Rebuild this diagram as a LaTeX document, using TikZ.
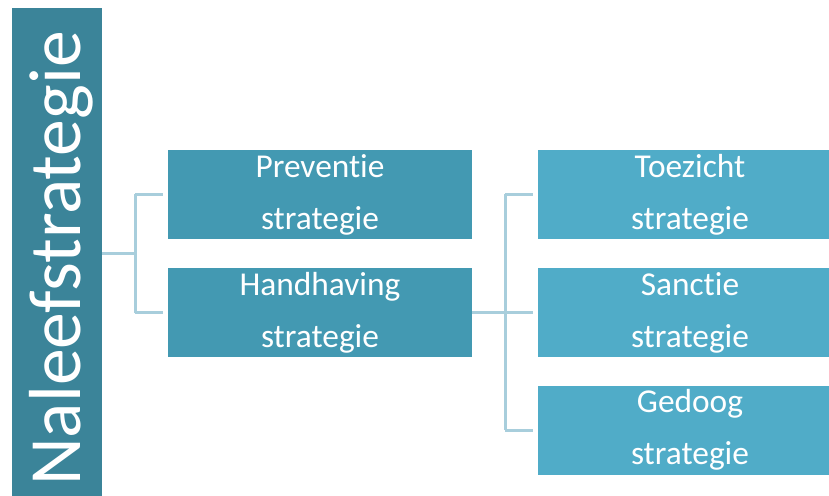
\documentclass[tikz,border=0pt]{standalone}
\usepackage{fontspec}
\setmainfont[Ligatures=NoCommon]{Carlito}
\definecolor{titlecol}{HTML}{3B8499}
\definecolor{midcol}{HTML}{4399B2}
\definecolor{rightcol}{HTML}{50ACC8}
\definecolor{linecol}{HTML}{A8CEDC}
\tikzset{
  box/.style={rectangle, inner sep=0pt, outer sep=0pt, text=white, align=center,
    font=\fontsize{33.5}{52}\selectfont},
  midbox/.style={box, fill=midcol, minimum width=304bp, minimum height=89bp},
  rightbox/.style={box, fill=rightcol, minimum width=304bp, minimum height=89bp},
  conn/.style={draw=linecol, line width=3bp},
}
\begin{document}
\begin{tikzpicture}[x=1bp,y=-1bp]
\useasboundingbox (0,0) rectangle (829,496);
\begin{scope}
\clip (0,0) rectangle (829,496);
\node[rectangle, fill=titlecol, minimum width=90bp, minimum height=488bp, inner sep=0pt, outer sep=0pt] (title) at (57,252) {};
\node[rotate=90, anchor=base west, text=white, inner sep=0pt, font=\fontsize{74}{74}\selectfont] (titletext) at (80,486) {Naleefstrategie};
\node[midbox] (prev) at (320,194.5) {Preventie\\strategie};
\node[midbox] (hand) at (320,312.5) {Handhaving\\strategie};
\node[rightbox] (toez) at (690,194.5) {Toezicht\\strategie};
\node[rightbox] (sanc) at (690,312.5) {Sanctie\\strategie};
\node[rightbox] (gedo) at (690,430) {Gedoog\\strategie};
\coordinate (j1) at (135,253.5);
\coordinate (j2) at (505,312.5);
\draw[conn] (title.east |- j1) -- (j1);
\draw[conn, shorten >=5bp] (j1 |- prev.west) -- (prev.west);
\draw[conn, shorten >=5bp] (j1 |- hand.west) -- (hand.west);
\draw[conn] (j1 |- prev.west) -- (j1 |- hand.west);
\draw[conn, shorten >=5bp] (hand.east) -- (sanc.west);
\draw[conn] (j2 |- toez.west) -- (j2 |- gedo.west);
\draw[conn, shorten >=5bp] (j2 |- toez.west) -- (toez.west);
\draw[conn, shorten >=5bp] (j2 |- gedo.west) -- (gedo.west);
\end{scope}
\end{tikzpicture}
\end{document}
